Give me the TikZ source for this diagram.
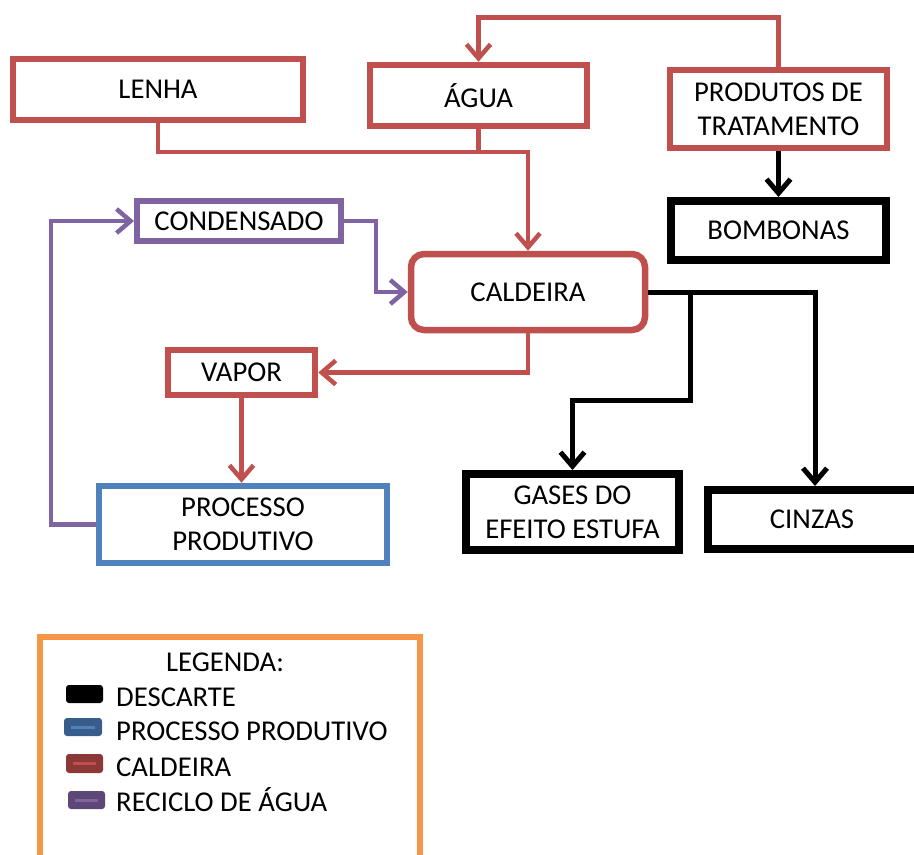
\documentclass[tikz,border=0pt]{standalone}
\usepackage{fontspec}
\setmainfont{Carlito}
\usetikzlibrary{arrows.meta}
\definecolor{cred}{HTML}{C0504D}
\definecolor{cpurple}{HTML}{8064A2}
\definecolor{cblue}{HTML}{4F81BD}
\definecolor{corange}{HTML}{F79646}
\definecolor{dblue}{HTML}{385D8A}
\definecolor{dred}{HTML}{8C3836}
\definecolor{dpurple}{HTML}{5C4776}
\tikzset{
  box/.style={draw, rectangle, inner sep=0pt, align=center, font=\fontsize{28.7pt}{34pt}\selectfont},
  rbox/.style={box, draw=cred, line width=6.5pt},
  pbox/.style={box, draw=cpurple, line width=6pt},
  bbox/.style={box, draw=cblue, line width=6.5pt},
  kbox/.style={box, draw=black, line width=8pt},
  arr/.style={-{Straight Barb[length=14pt,width=24pt]}},
  rline/.style={draw=cred, line width=4.5pt, arr},
  pline/.style={draw=cpurple, line width=4.5pt, arr},
  kline/.style={draw=black, line width=5pt, arr},
  plain/.style={-},
  legtext/.style={anchor=base west, inner sep=0pt, font=\fontsize{28.7pt}{34pt}\selectfont},
  swatch/.style={rounded corners=3pt, line width=0pt},
}
\begin{document}
\begin{tikzpicture}[x=1pt,y=-1pt]
\clip (0,0) rectangle (914,855);
\fill[white] (0,0) rectangle (914,855);
% boxes
\node[rbox, minimum width=290pt, minimum height=61pt] (lenha) at (158,89.5) {LENHA};
\node[rbox, minimum width=217pt, minimum height=61pt] (agua) at (478.5,95.5) {ÁGUA};
\node[rbox, minimum width=217pt, minimum height=78pt] (prod) at (778.5,109) {PRODUTOS DE\\TRATAMENTO};
\node[kbox, minimum width=215pt, minimum height=59pt] (bomb) at (778.5,230.5) {BOMBONAS};
\node[pbox, minimum width=204pt, minimum height=40pt] (cond) at (239,221) {CONDENSADO};
\node[rbox, rounded corners=13pt, minimum width=234pt, minimum height=76pt] (cald) at (528,292) {CALDEIRA};
\node[rbox, minimum width=147pt, minimum height=45pt] (vapor) at (241.5,372.5) {VAPOR};
\node[bbox, minimum width=288pt, minimum height=77pt] (proc) at (243,524.5) {PROCESSO\\PRODUTIVO};
\node[kbox, minimum width=213pt, minimum height=76pt] (gases) at (572.5,512) {GASES DO\\EFEITO ESTUFA};
\node[kbox, minimum width=214pt, minimum height=59pt] (cinzas) at (815,519.5) {\hspace*{-6pt}CINZAS};
% connector coordinates
\coordinate (j1) at (528,152);
\coordinate (t1) at (478.5,17.5);
\coordinate (c1) at (376,221);
\coordinate (c2) at (51,524.5);
\coordinate (b1) at (690,292);
\coordinate (b2) at (690,400);
% connectors
\draw[rline] (lenha.south) |- (j1) -- (cald.north);
\draw[rline, plain] (agua.south) -- (agua.south |- j1);
\draw[rline] (prod.north) |- (t1) -- (agua.north);
\draw[kline] (prod.south) -- (bomb.north);
\draw[pline] (cond.east) -- (c1) |- (cald.west);
\draw[pline] (proc.west) -- (c2) |- (cond.west);
\draw[rline] (cald.south) |- (vapor.east);
\draw[rline] (vapor.south) -- (vapor.south |- proc.north);
\draw[kline] (cald.east) -| (cinzas.north);
\draw[kline] (b1) -- (b2) -| (gases.north);
% legend
\node[draw=corange, line width=6pt, rectangle, inner sep=0pt, minimum width=380pt, minimum height=260pt] (leg) at (230,767) {};
\node[inner sep=0pt, font=\fontsize{28.7pt}{34pt}\selectfont] (legt) at (225,662.5) {LEGENDA:};
\fill[black, swatch] (66,685) rectangle (103,703);
\fill[dblue, swatch] (64,718) rectangle (102,736);
\fill[cblue] (71,725.5) rectangle (95,728.5);
\fill[dred, swatch] (66,754) rectangle (103,773);
\fill[cred] (73,762) rectangle (96,765);
\fill[dpurple, swatch] (68,791) rectangle (105,809);
\fill[cpurple] (75,798.5) rectangle (98,801.5);
\node[legtext] (l1) at (116,706) {DESCARTE};
\node[legtext] (l2) at (116,740) {PROCESSO PRODUTIVO};
\node[legtext] (l3) at (116,776) {CALDEIRA};
\node[legtext] (l4) at (116,811) {RECICLO DE ÁGUA};
\end{tikzpicture}
\end{document}
